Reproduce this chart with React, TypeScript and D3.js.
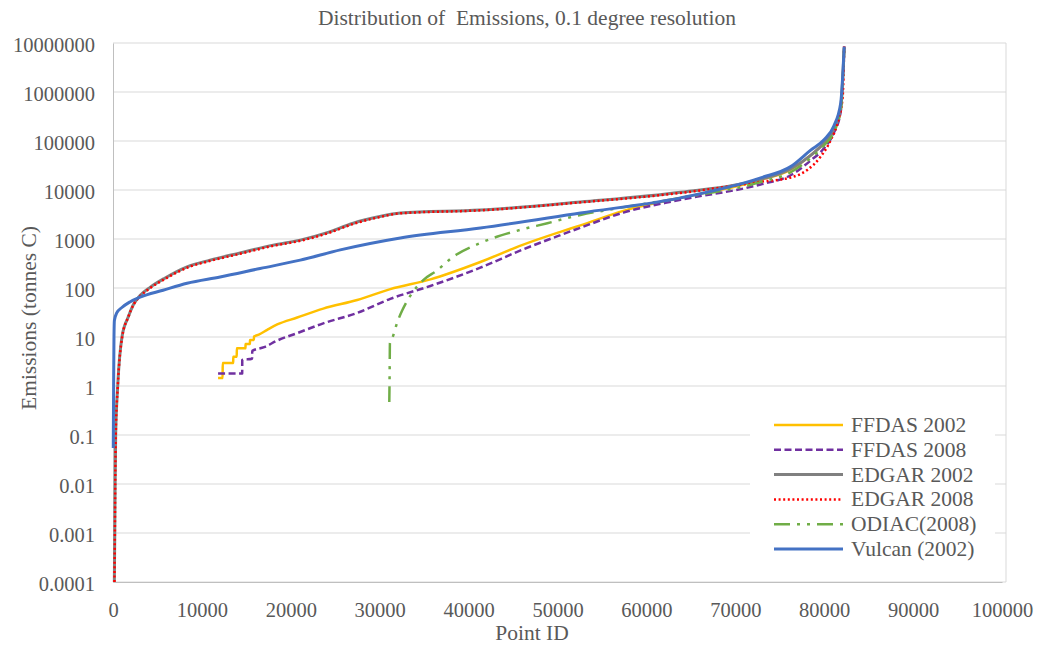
import React, { useEffect, useRef } from 'react';
import * as d3 from 'd3';

// axis ticks
const xTicks = [0, 10000, 20000, 30000, 40000, 50000, 60000, 70000, 80000, 90000, 100000];
const yTicks = [0.0001, 0.001, 0.01, 0.1, 1, 10, 100, 1000, 10000, 100000, 1000000, 10000000];

// [point id, tonnes C]
const ffdas2002 = [
  [11820, 1.45], [12330, 1.45], [12340, 2.95], [13520, 2.95], [13530, 3.95], [13920, 3.95],
  [13930, 5.9], [14900, 5.9], [14910, 7.2], [15400, 7.2], [15410, 8.7], [15850, 8.7],
  [15860, 10.2], [16400, 11.2], [17340, 14], [18470, 18],
  [20720, 25], [23650, 38], [27470, 57], [31190, 95], [35700, 150], [41320, 340],
  [46000, 750], [50330, 1400], [52580, 1900], [57500, 3800], [63840, 6900], [72850, 16000],
  [76230, 26000], [78480, 51000], [79950, 90000], [81070, 170000], [81860, 480000], [82250, 8200000]
];

const ffdas2008 = [
  [11820, 1.8], [14530, 1.8], [14540, 3.4], [15650, 3.6], [15660, 5.2], [17000, 6.2],
  [18500, 8.5], [20720, 12], [23650, 19], [27470, 31], [31190, 60], [35700, 110],
  [41320, 260], [46000, 600], [50330, 1200], [52580, 1700], [57500, 3500], [63840, 6300],
  [72850, 13000], [76230, 20000], [78480, 40000], [79950, 70000], [81070, 145000],
  [81860, 400000], [82250, 8000000]
];

const edgar2002 = [
  [150, 0.0001], [200, 0.001], [240, 0.01], [300, 0.1], [530, 1], [1010, 10], [1690, 25],
  [2300, 46], [3040, 70], [4170, 103], [5860, 160], [8330, 270], [10920, 370], [14300, 520],
  [18020, 750], [21060, 950], [24100, 1350], [27020, 2100], [29730, 2800], [32320, 3400],
  [41320, 3900], [52580, 5700], [63840, 9000], [72850, 16500], [76230, 27000], [78480, 51000],
  [79950, 90000], [81070, 170000], [81860, 480000], [82250, 8000000]
];

const edgar2008 = [
  [160, 0.0001], [210, 0.001], [250, 0.01], [310, 0.1], [540, 1], [1030, 10], [1700, 25],
  [2320, 46], [3060, 68], [4200, 100], [5900, 155], [8400, 262], [11000, 360], [14400, 505],
  [18100, 730], [21200, 930], [24200, 1320], [27100, 2050], [29800, 2750], [32400, 3350],
  [41400, 3850], [52600, 5600], [63840, 8700], [72850, 14700], [76230, 18000], [78140, 26000],
  [79600, 48000], [80740, 105000], [81520, 240000], [82080, 800000], [82250, 8800000]
];

const odiac2008 = [
  [31080, 0.47], [31120, 2], [31150, 7.5], [31420, 9.5], [31980, 20], [32540, 35],
  [33670, 80], [34900, 145], [36480, 230], [38000, 400], [41320, 830], [45030, 1400],
  [48860, 2100], [52580, 3100], [56300, 4100], [63840, 6900], [72850, 14500], [76230, 23000],
  [78480, 45000], [79950, 80000], [81070, 150000], [81860, 430000], [82250, 8000000]
];

const vulcan2002 = [
  [30, 0.054], [70, 1], [110, 10], [160, 22], [420, 31], [1000, 40], [1900, 52], [3040, 65],
  [5630, 90], [8330, 125], [12050, 168], [16550, 250], [21060, 370], [25560, 600],
  [32320, 1050], [41320, 1680], [52580, 3400], [63840, 6900], [72850, 17700], [76230, 30000],
  [78480, 65000], [79950, 105000], [81070, 200000], [81860, 600000], [82250, 8500000]
];

const seriesNames = ['FFDAS 2002', 'FFDAS 2008', 'EDGAR 2002', 'EDGAR 2008', 'ODIAC(2008)', 'Vulcan (2002)'];
const seriesData = [ffdas2002, ffdas2008, edgar2002, edgar2008, odiac2008, vulcan2002];

const styles = [
  { color: '#FFC000', width: 2.5, dash: null },
  { color: '#7030A0', width: 2.5, dash: '7 3.5' },
  { color: '#808080', width: 3, dash: null },
  { color: '#FF0000', width: 2.5, dash: '2 2.6' },
  { color: '#70AD47', width: 2.5, dash: '16 7 3 7 3 7' },
  { color: '#4472C4', width: 3, dash: null }
];

const font = "'Liberation Serif', 'Times New Roman', Times, 'DejaVu Serif', serif";
const textColor = '#595959';

const App = () => {
  const svgRef = useRef(null);

  useEffect(() => {
    const w = 1045;
    const h = 650;
    const left = 113;
    const right = 1002;
    const frameRight = 1006;
    const top = 43;
    const bottom = 582;

    const svg = d3.select(svgRef.current)
      .attr('width', w)
      .attr('height', h)
      .style('font-family', font);
    svg.selectAll('*').remove();

    const x = d3.scaleLinear().domain([0, 100000]).range([left, right]);
    const y = d3.scaleLog().domain([0.0001, 10000000]).range([bottom, top]);

    svg.append('rect').attr('width', w).attr('height', h).attr('fill', '#fff');

    // gridlines
    svg.append('g')
      .selectAll('line')
      .data(yTicks)
      .join('line')
      .attr('x1', left)
      .attr('x2', frameRight)
      .attr('y1', (d) => y(d))
      .attr('y2', (d) => y(d))
      .attr('stroke', '#D9D9D9')
      .attr('stroke-width', 1);

    svg.append('line')
      .attr('x1', frameRight).attr('x2', frameRight)
      .attr('y1', top).attr('y2', bottom)
      .attr('stroke', '#D9D9D9');

    // axes
    const yAxis = d3.axisLeft(y)
      .tickValues(yTicks)
      .tickSize(0)
      .tickPadding(18)
      .tickFormat((d) => String(d));
    const yg = svg.append('g')
      .attr('transform', `translate(${left},0)`)
      .call(yAxis);
    yg.attr('font-family', null).attr('font-size', null);
    yg.select('.domain').attr('stroke', '#BFBFBF').attr('stroke-width', 1);
    yg.selectAll('text')
      .attr('dy', '0.42em')
      .attr('fill', textColor)
      .style('font-family', font)
      .style('font-size', '20.5px');

    const xAxis = d3.axisBottom(x)
      .tickValues(xTicks)
      .tickSize(0)
      .tickPadding(20)
      .tickFormat((d) => String(d));
    const xg = svg.append('g')
      .attr('transform', `translate(0,${bottom})`)
      .call(xAxis);
    xg.attr('font-family', null).attr('font-size', null);
    xg.select('.domain').attr('stroke', '#BFBFBF').attr('stroke-width', 1);
    xg.selectAll('text')
      .attr('fill', textColor)
      .style('font-family', font)
      .style('font-size', '20.5px');

    // series
    const line = d3.line()
      .x((d) => x(d[0]))
      .y((d) => y(d[1]))
      .curve(d3.curveMonotoneX);

    seriesData.forEach((data, i) => {
      const s = styles[i];
      svg.append('path')
        .datum(data)
        .attr('d', line)
        .attr('fill', 'none')
        .attr('stroke', s.color)
        .attr('stroke-width', s.width)
        .attr('stroke-dasharray', s.dash)
        .attr('stroke-linejoin', 'round');
    });

    // legend
    const lg = svg.append('g');
    lg.append('rect')
      .attr('x', 750).attr('y', 403)
      .attr('width', 245).attr('height', 170)
      .attr('fill', '#fff');
    seriesNames.forEach((name, i) => {
      const s = styles[i];
      const cy = 425 + i * 24.8;
      lg.append('line')
        .attr('x1', 774).attr('x2', 843)
        .attr('y1', cy).attr('y2', cy)
        .attr('stroke', s.color)
        .attr('stroke-width', s.width)
        .attr('stroke-dasharray', s.dash);
      lg.append('text')
        .attr('x', 851)
        .attr('y', cy + 7)
        .attr('fill', textColor)
        .style('font-family', font)
        .style('font-size', '21.5px')
        .text(name);
    });

    // titles
    svg.append('text')
      .attr('x', 527).attr('y', 25)
      .attr('text-anchor', 'middle')
      .attr('fill', textColor)
      .style('font-family', font)
      .style('font-size', '21.5px')
      .style('white-space', 'pre')
      .text('Distribution of  Emissions, 0.1 degree resolution');

    svg.append('text')
      .attr('x', 532).attr('y', 640)
      .attr('text-anchor', 'middle')
      .attr('fill', textColor)
      .style('font-family', font)
      .style('font-size', '21.5px')
      .text('Point ID');

    svg.append('text')
      .attr('transform', 'translate(36,318) rotate(-90)')
      .attr('text-anchor', 'middle')
      .attr('fill', textColor)
      .style('font-family', font)
      .style('font-size', '21.5px')
      .text('Emissions (tonnes C)');
  }, []);

  return (
    <svg ref={svgRef} style={{ position: 'absolute', left: 0, top: 0 }}></svg>
  );
};

export default App;
